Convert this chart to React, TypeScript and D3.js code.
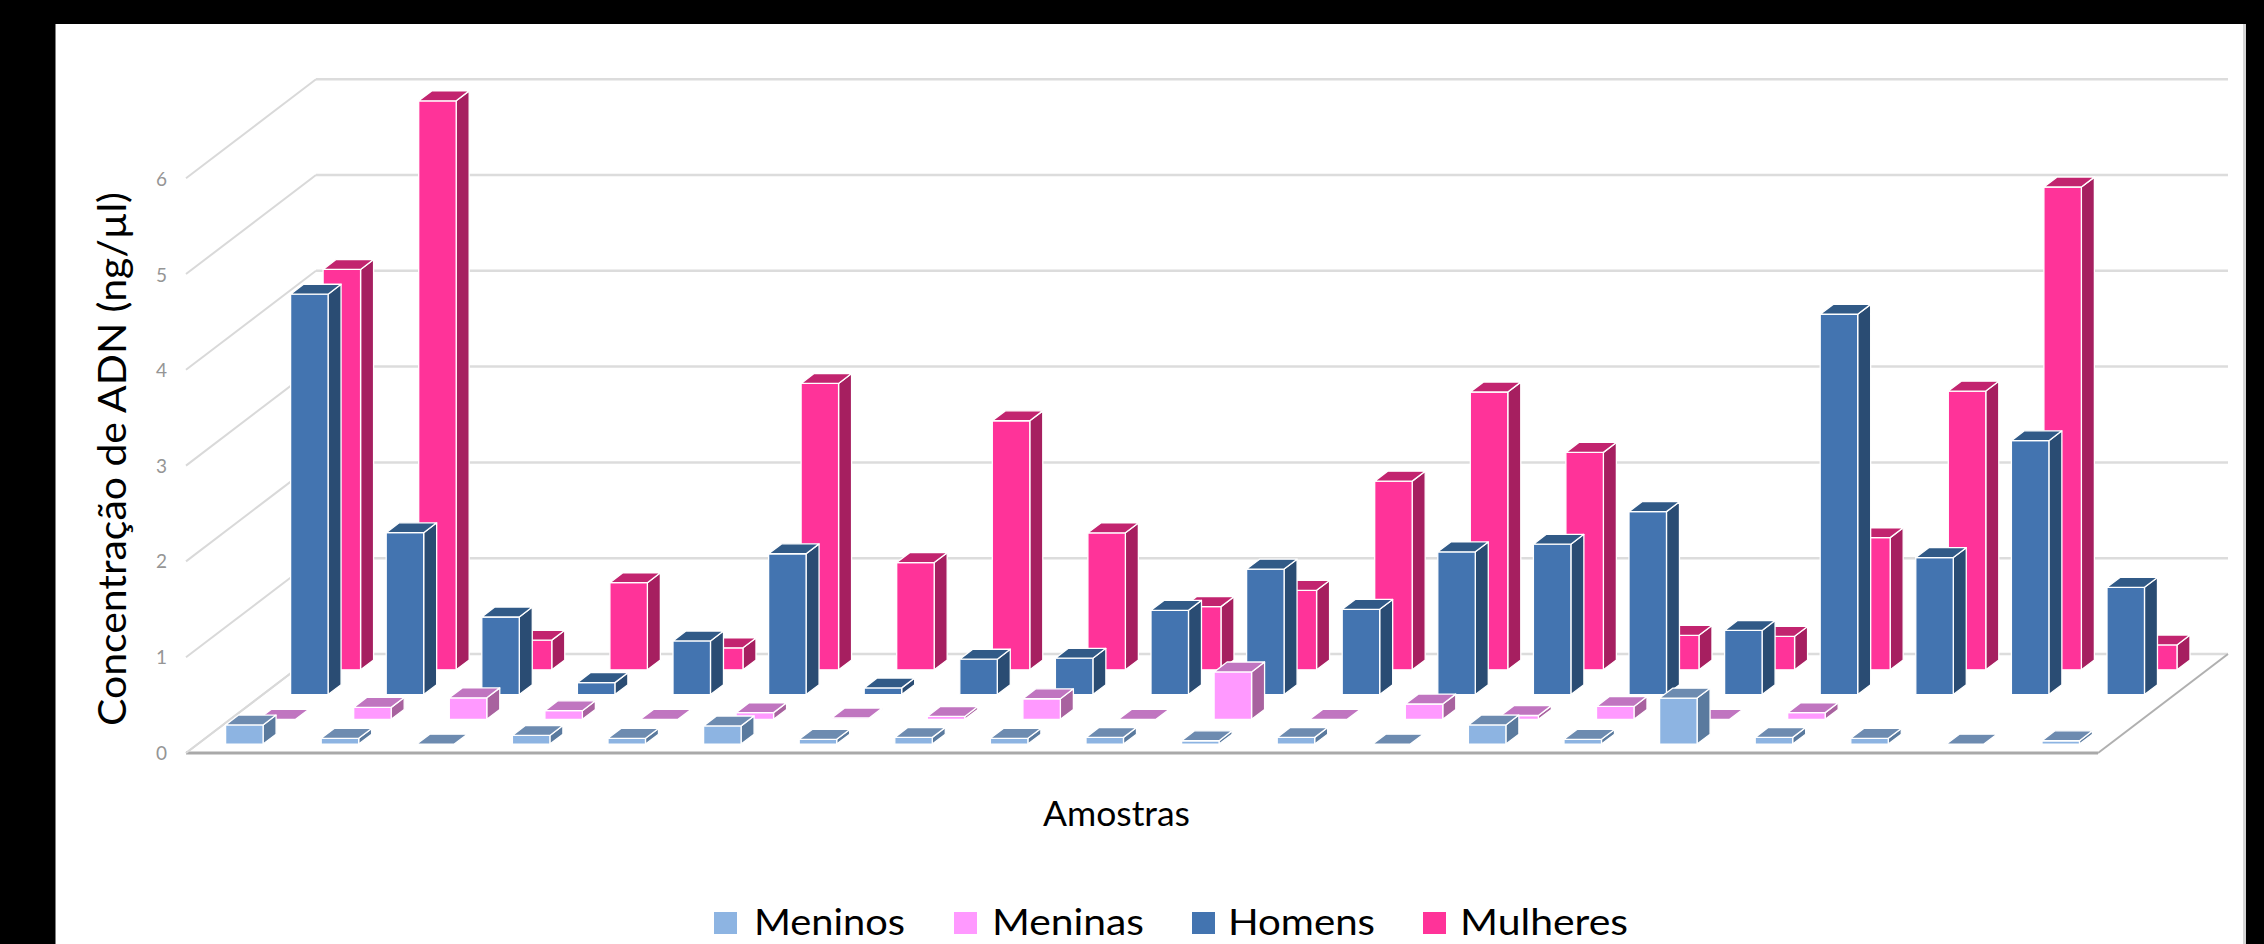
import React from "react";
import * as d3 from "d3";

// DNA concentration (ng/µl) per sample, one list per population group.
const samples = d3.range(1, 21).map(String);
const meninos = [0.2, 0.06, 0, 0.09, 0.06, 0.19, 0.05, 0.07, 0.06, 0.07, 0.035, 0.07, 0, 0.2, 0.05, 0.48, 0.07, 0.06, 0, 0.035];
const meninas = [0, 0.125, 0.225, 0.09, 0, 0.07, 0.015, 0.03, 0.215, 0, 0.495, 0, 0.16, 0.04, 0.135, 0, 0.07, null, null, null];
const homens = [4.18, 1.69, 0.81, 0.125, 0.56, 1.47, 0.07, 0.37, 0.38, 0.88, 1.31, 0.89, 1.49, 1.57, 1.91, 0.67, 3.97, 1.43, 2.65, 1.12];
const mulheres = [4.18, 5.94, 0.31, 0.91, 0.23, 2.99, 1.12, 2.6, 1.43, 0.66, 0.83, 1.97, 2.9, 2.27, 0.36, 0.35, 1.38, 2.91, 5.04, 0.26];
const yTicks = [0, 1, 2, 3, 4, 5, 6];

const seriesNames = ["Meninos", "Meninas", "Homens", "Mulheres"];
const seriesValues = [meninos, meninas, homens, mulheres];
const faceColors = [
  { front: "#8db4e2", top: "#6d8bb0", side: "#5a7a9e" },
  { front: "#ff99ff", top: "#c075c0", side: "#a8629f" },
  { front: "#4374b0", top: "#315a87", side: "#2a4c73" },
  { front: "#ff3399", top: "#c2246f", side: "#a61f60" },
];

const W = 2264;
const H = 944;
const floorLeft = 186;
const floorRight = 2098;
const floorFront = 753;
const floorDepthY = 99;
const floorDepthX = 130;

const x = d3.scaleBand().domain(samples).range([0, floorRight - floorLeft]).paddingInner(0.608).paddingOuter(0.304).align(0.48);
const y = d3.scaleLinear().domain([0, 1]).range([0, 95.8]);
const depth = d3.scaleBand().domain(seriesNames).range([0, floorDepthY]).paddingInner(0.6).paddingOuter(0.3).align(0.6);
const tickLabelY = d3.scaleLinear().domain([0, 6]).range([759.5, 186]);

// Oblique projection: across, height and depth into page coordinates.
const project = (across: number, height: number, deep: number): [number, number] => [
  floorLeft + across + (deep * floorDepthX) / floorDepthY,
  floorFront - y(height) - deep,
];
const path = (pts: [number, number][]) => d3.line()(pts) + "Z";

function Bar({ sample, value, name, colors }: any) {
  const x0 = x(sample)!;
  const x1 = x0 + x.bandwidth();
  const d0 = depth(name)!;
  const d1 = d0 + depth.bandwidth();
  const top = [project(x0, value, d0), project(x1, value, d0), project(x1, value, d1), project(x0, value, d1)] as [number, number][];
  const front = [project(x0, 0, d0), project(x1, 0, d0), project(x1, value, d0), project(x0, value, d0)] as [number, number][];
  const side = [project(x1, 0, d0), project(x1, 0, d1), project(x1, value, d1), project(x1, value, d0)] as [number, number][];
  const edge = { stroke: "#ffffff", strokeWidth: 1.3, strokeLinejoin: "round" as const };
  return (
    <g>
      {value > 0 && <path d={path(side)} fill={colors.side} {...edge} />}
      {value > 0 && <path d={path(front)} fill={colors.front} {...edge} />}
      <path d={path(top)} fill={colors.top} {...edge} />
    </g>
  );
}

const legendItems = [
  { swatch: 714, textX: 754, textLen: 151 },
  { swatch: 954, textX: 992, textLen: 152 },
  { swatch: 1192, textX: 1228, textLen: 147 },
  { swatch: 1423, textX: 1460, textLen: 168 },
];

export default function App() {
  const backLeft = project(0, 0, floorDepthY);
  const backRight = project(floorRight - floorLeft, 0, floorDepthY);
  const frontRight = project(floorRight - floorLeft, 0, 0);
  const textFont = "Lato, sans-serif";
  return (
    <>
      <style>{"html,body{margin:0;padding:0;background:#000}"}</style>
      <svg width={W} height={H} viewBox={`0 0 ${W} ${H}`} style={{ display: "block" }}>
        <rect width={W} height={H} fill="#000" />
        <rect x={55.5} y={24} width={2190.5} height={H - 24} fill="#fff" />
        <rect x={2243} y={24} width={3} height={H - 24} fill="#d4d4d4" />

        {/* Back wall gridlines and their diagonal returns along the left wall */}
        {yTicks.map((t) => (
          <g key={t}>
            <line x1={project(0, t, 0)[0]} y1={project(0, t, 0)[1]} x2={project(0, t, floorDepthY)[0]} y2={project(0, t, floorDepthY)[1]} stroke="#d9d9d9" strokeWidth={2} />
            <line x1={project(0, t, floorDepthY)[0]} y1={project(0, t, floorDepthY)[1]} x2={backRight[0]} y2={project(0, t, floorDepthY)[1]} stroke="#dcdcdc" strokeWidth={2.5} />
            <text x={161.5} y={tickLabelY(t)} fontFamily={textFont} fontSize={19} fill="#959595" textAnchor="middle">
              {t}
            </text>
          </g>
        ))}

        {/* Floor edges */}
        <line x1={project(0, 0, 0)[0]} y1={floorFront} x2={frontRight[0]} y2={floorFront} stroke="#a9a9a9" strokeWidth={3} />
        <line x1={frontRight[0]} y1={frontRight[1]} x2={backRight[0]} y2={backRight[1]} stroke="#b0b0b0" strokeWidth={2} />
        <line x1={backLeft[0]} y1={backLeft[1]} x2={project(0, 0, 0)[0]} y2={floorFront} stroke="#d9d9d9" strokeWidth={2} />

        {/* Rows are painted from the back so nearer bars cover farther ones */}
        {d3.range(seriesNames.length - 1, -1, -1).map((s) => (
          <g key={seriesNames[s]}>
            {samples.map((sample, i) => {
              const v = seriesValues[s][i];
              return v === null ? null : <Bar key={sample} sample={sample} value={v} name={seriesNames[s]} colors={faceColors[s]} />;
            })}
          </g>
        ))}

        <text x={1043} y={826} fontFamily={textFont} fontSize={35} fill="#000" textLength={147} lengthAdjust="spacingAndGlyphs">
          Amostras
        </text>
        <text transform="translate(126,726) rotate(-90)" fontFamily={textFont} fontSize={39} fill="#000" textLength={534} lengthAdjust="spacingAndGlyphs">
          Concentração de ADN (ng/µl)
        </text>

        {legendItems.map((item, s) => (
          <g key={seriesNames[s]}>
            <rect x={item.swatch} y={912} width={23} height={22} fill={faceColors[s].front} />
            <text x={item.textX} y={935} fontFamily={textFont} fontSize={37} fill="#000" textLength={item.textLen} lengthAdjust="spacingAndGlyphs">
              {seriesNames[s]}
            </text>
          </g>
        ))}
      </svg>
    </>
  );
}
